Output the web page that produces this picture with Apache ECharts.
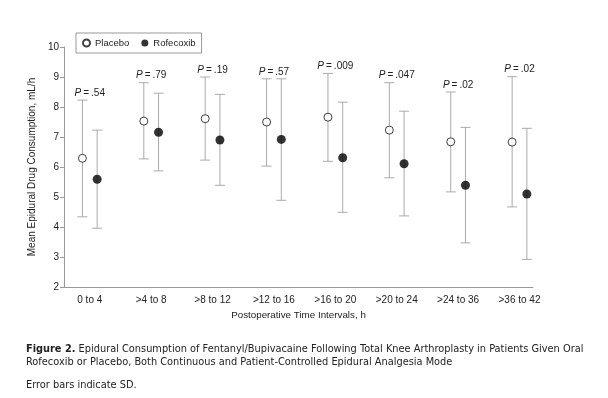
<!DOCTYPE html>
<html>
<head>
<meta charset="utf-8">
<script src="https://cdn.jsdelivr.net/npm/echarts@6/dist/echarts.min.js"></script>
<style>
  html, body { margin: 0; padding: 0; background: #fff; }
  #chart { width: 608px; height: 398px; }
</style>
</head>
<body>
<div id="chart"></div>
<script>
const categories = ["0 to 4", ">4 to 8", ">8 to 12", ">12 to 16", ">16 to 20", ">20 to 24", ">24 to 36", ">36 to 42"];

// means and SD bar ends (mL/h)
const placeboMean = [6.29, 7.53, 7.61, 7.50, 7.66, 7.23, 6.84, 6.83];
const placeboLow = [4.34, 6.27, 6.23, 6.03, 6.19, 5.64, 5.17, 4.67];
const placeboHigh = [8.23, 8.81, 9.00, 8.94, 9.12, 8.81, 8.50, 9.01];

const rofecoxibMean = [5.59, 7.16, 6.90, 6.92, 6.31, 6.11, 5.39, 5.10];
const rofecoxibLow = [3.96, 5.87, 5.39, 4.89, 4.49, 4.37, 3.47, 2.92];
const rofecoxibHigh = [7.23, 8.46, 8.42, 8.94, 8.16, 7.86, 7.32, 7.29];

const pValues = [".54", ".79", ".19", ".57", ".009", ".047", ".02", ".02"];

const yTicks = [2, 3, 4, 5, 6, 7, 8, 9, 10];

const OFFSET = 0.12; // half the gap between the two groups inside a category
const font = "Liberation Sans, Arial, sans-serif";
const captionFont = "DejaVu Sans, Verdana, sans-serif";

const chart = echarts.init(document.getElementById("chart"));

function errorBars(low, high, shift) {
  return {
    type: "custom",
    silent: true,
    z: 1,
    data: low.map((l, i) => [i + shift, l, high[i]]),
    renderItem: (params, api) => {
      const x = api.value(0);
      const lo = api.coord([x, api.value(1)]);
      const hi = api.coord([x, api.value(2)]);
      const cap = 5;
      const style = { stroke: "#aaa", lineWidth: 1 };
      return {
        type: "group",
        children: [
          { type: "line", shape: { x1: lo[0], y1: lo[1], x2: hi[0], y2: hi[1] }, style },
          { type: "line", shape: { x1: lo[0] - cap, y1: lo[1], x2: lo[0] + cap, y2: lo[1] }, style },
          { type: "line", shape: { x1: hi[0] - cap, y1: hi[1], x2: hi[0] + cap, y2: hi[1] }, style }
        ]
      };
    }
  };
}

const options = {
  animation: false,
  textStyle: { fontFamily: font },
  grid: { left: 64, right: 75, top: 47, bottom: 111 },
  legend: {
    left: 76,
    top: 33,
    padding: [5, 6, 5, 6],
    itemGap: 12,
    itemWidth: 7,
    itemHeight: 7,
    borderColor: "#999",
    borderWidth: 1,
    textStyle: { fontSize: 9.5, color: "#222", fontFamily: font },
    data: ["Placebo", "Rofecoxib"]
  },
  xAxis: {
    type: "value",
    min: -0.42,
    max: 7.22,
    name: "Postoperative Time Intervals, h",
    nameLocation: "middle",
    nameGap: 23,
    nameTextStyle: { fontSize: 9.8, color: "#222", fontFamily: font },
    axisLine: { onZero: false, lineStyle: { color: "#999" } },
    axisTick: { show: false },
    splitLine: { show: false },
    axisLabel: {
      customValues: categories.map((c, i) => i),
      formatter: v => categories[Math.round(v)],
      fontSize: 10,
      color: "#222",
      margin: 8
    }
  },
  yAxis: {
    type: "value",
    min: yTicks[0],
    max: yTicks[yTicks.length - 1],
    interval: 1,
    name: "Mean Epidural Drug Consumption, mL/h",
    nameLocation: "middle",
    nameGap: 21,
    nameTextStyle: { fontSize: 10, color: "#222", fontFamily: font },
    axisLine: { show: true, onZero: false, lineStyle: { color: "#999" } },
    axisTick: { show: true, length: 4, lineStyle: { color: "#999" } },
    splitLine: { show: false },
    axisLabel: { fontSize: 10, color: "#222", margin: 5 }
  },
  series: [
    errorBars(placeboLow, placeboHigh, -OFFSET),
    errorBars(rofecoxibLow, rofecoxibHigh, OFFSET),
    {
      name: "Placebo",
      type: "scatter",
      z: 3,
      symbol: "circle",
      symbolSize: 8,
      itemStyle: { color: "#fff", borderColor: "#111", borderWidth: 1 },
      data: placeboMean.map((v, i) => [i - OFFSET, v])
    },
    {
      name: "Rofecoxib",
      type: "scatter",
      z: 3,
      symbol: "circle",
      symbolSize: 9,
      itemStyle: { color: "#000" },
      data: rofecoxibMean.map((v, i) => [i + OFFSET, v])
    },
    {
      // P value labels above the placebo SD bars
      type: "custom",
      silent: true,
      data: pValues.map((p, i) => [i, placeboHigh[i], p]),
      renderItem: (params, api) => {
        const pt = api.coord([api.value(0), api.value(1)]);
        return {
          type: "text",
          x: pt[0],
          y: pt[1] - 2,
          style: {
            text: "{i|P}\u2009=\u2009" + pValues[params.dataIndex],
            align: "center",
            verticalAlign: "bottom",
            fontSize: 10,
            fontFamily: font,
            fill: "#222",
            rich: { i: { fontStyle: "italic", fontSize: 10, fontFamily: font } }
          }
        };
      }
    }
  ],
  graphic: [
    {
      type: "text",
      left: 26,
      top: 343,
      style: {
        text: "{b|Figure 2.} Epidural Consumption of Fentanyl/Bupivacaine Following Total Knee Arthroplasty in Patients Given Oral\nRofecoxib or Placebo, Both Continuous and Patient-Controlled Epidural Analgesia Mode",
        fontFamily: captionFont,
        fontSize: 9.8,
        lineHeight: 13,
        fill: "#222",
        rich: { b: { fontWeight: "bold", fontFamily: captionFont, fontSize: 9.8 } }
      }
    },
    {
      type: "text",
      left: 26,
      top: 380,
      style: {
        text: "Error bars indicate SD.",
        fontFamily: captionFont,
        fontSize: 9.8,
        fill: "#222"
      }
    }
  ]
};

chart.setOption(options);
</script>
</body>
</html>
